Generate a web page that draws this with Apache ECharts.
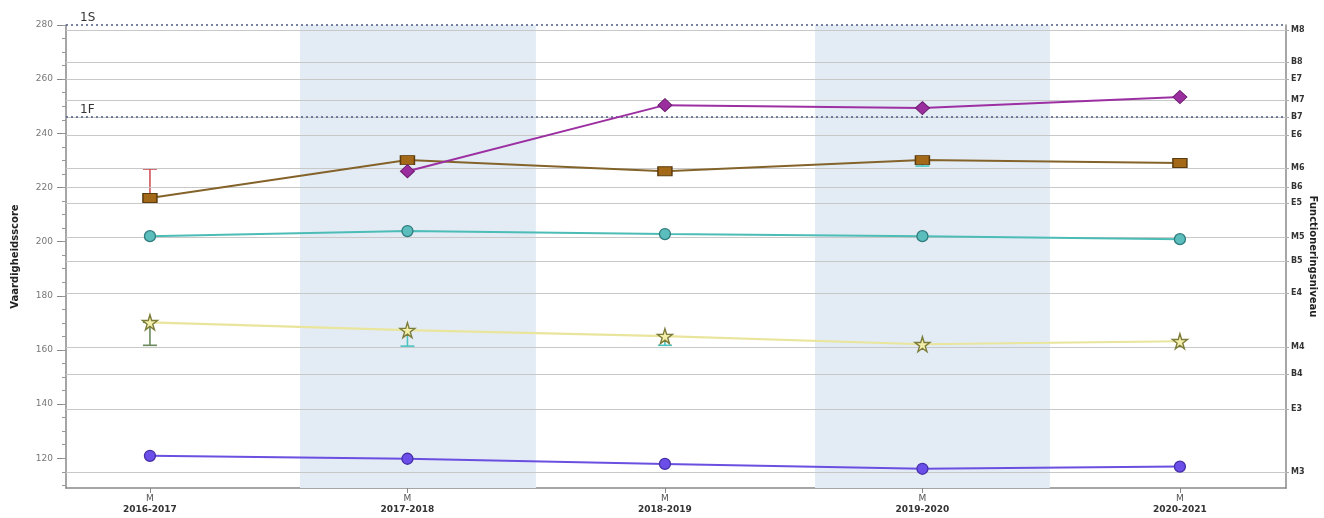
<!DOCTYPE html>
<html>
<head>
<meta charset="utf-8">
<script src="https://cdn.jsdelivr.net/npm/echarts@6/dist/echarts.min.js"></script>
<style>
html,body{margin:0;padding:0;background:#fff;}
#chart{width:1324px;height:518px;}
</style>
</head>
<body>
<div id="chart"></div>
<script>
// ---- data ----
var periods = ['2016-2017', '2017-2018', '2018-2019', '2019-2020', '2020-2021'];
var periodIdx = [0, 1, 2, 3, 4];
var brownSeries = [216.1, 230.1, 226.0, 230.1, 229.0];
var purpleSeries = [null, 226.0, 250.4, 249.3, 253.4];
var tealSeries = [202.0, 203.9, 202.8, 202.0, 200.9];
var yellowSeries = [170.2, 167.3, 165.1, 162.1, 163.2];
var blueSeries = [120.9, 119.8, 117.9, 116.1, 116.9];
// error bars: [periodIndex, low, high]
var redErr = [[0, 216.1, 226.8]];
var greenErr = [[0, 161.7, 170.2]];
var cyanErr = [[1, 161.4, 167.3], [2, 161.7, 165.1], [3, 227.9, 230.1]];
// left axis ticks
var leftTicks = [120, 140, 160, 180, 200, 220, 240, 260, 280];
var leftMinorTicks = [110,115,120,125,130,135,140,145,150,155,160,165,170,175,180,185,190,195,200,205,210,215,220,225,230,235,240,245,250,255,260,265,270,275,280];
// right axis (functioneringsniveau) levels
var levelNames = ['M3','E3','B4','M4','E4','B5','M5','E5','B6','M6','E6','B7','M7','E7','B8','M8'];
var levelValues = [114.8, 138.1, 151.0, 161.0, 180.9, 192.7, 201.6, 214.2, 220.1, 227.1, 239.3, 246.0, 252.3, 260.0, 266.3, 278.2];
// reference levels
var refNames = ['1S', '1F'];
var refValues = [280, 246.0];
// shaded periods [from, to] along x
var shadeBands = [[0.583, 1.499], [2.583, 3.495]];

// ---- build ----
function pairs(arr) {
  return arr.map(function (v, i) { return [periodIdx[i], v]; });
}
var starPath = 'path://M50,0 L61,35 L98,35 L68,57 L79,91 L50,70 L21,91 L32,57 L2,35 L39,35 Z';

function errSeries(data, color) {
  return {
    type: 'custom',
    z: 3,
    silent: true,
    data: data,
    renderItem: function (params, api) {
      var x = api.value(0), lo = api.value(1), hi = api.value(2);
      var p1 = api.coord([x, lo]), p2 = api.coord([x, hi]);
      var st = { stroke: color, lineWidth: 1.6 };
      return {
        type: 'group',
        children: [
          { type: 'line', shape: { x1: p1[0], y1: p1[1], x2: p2[0], y2: p2[1] }, style: st },
          { type: 'line', shape: { x1: p1[0] - 7, y1: p1[1], x2: p1[0] + 7, y2: p1[1] }, style: st },
          { type: 'line', shape: { x1: p2[0] - 7, y1: p2[1], x2: p2[0] + 7, y2: p2[1] }, style: st }
        ]
      };
    }
  };
}

var gridLines = levelValues.map(function (v) {
  return { yAxis: v, lineStyle: { color: '#c8c8c8', width: 1.2, type: 'solid' }, label: { show: false } };
});
var refLines = refValues.map(function (v, i) {
  return {
    yAxis: v,
    lineStyle: { color: '#4d5b86', width: 1.6, type: [2, 3] },
    label: { show: true, formatter: refNames[i], position: 'insideStartTop', distance: [14, 1], color: '#333', fontSize: 12, fontFamily: 'DejaVu Sans' }
  };
});
var areas = shadeBands.map(function (b) {
  return [{ xAxis: b[0] }, { xAxis: b[1] }];
});

var chart = echarts.init(document.getElementById('chart'));
chart.setOption({
  animation: false,
  backgroundColor: '#fff',
  grid: { left: 66, right: 38, top: 25, bottom: 30, containLabel: false, outerBoundsMode: 'none' },
  xAxis: {
    type: 'value',
    min: -0.326,
    max: 4.412,
    axisLine: { onZero: false, lineStyle: { color: '#888', width: 1.5 } },
    axisTick: { customValues: periodIdx, length: 5, lineStyle: { color: '#888' } },
    axisLabel: {
      customValues: periodIdx,
      formatter: function (v) { return '{m|M}\n{p|' + periods[Math.round(v)] + '}'; },
      margin: 5,
      rich: {
        m: { fontSize: 9, color: '#555', fontFamily: 'DejaVu Sans', lineHeight: 11 },
        p: { fontSize: 9, color: '#333', fontWeight: 'bold', fontFamily: 'DejaVu Sans', lineHeight: 11 }
      }
    },
    splitLine: { show: false }
  },
  yAxis: [
    {
      type: 'value', position: 'left', min: 109, max: 280,
      name: 'Vaardigheidsscore', nameLocation: 'middle', nameGap: 46, nameRotate: 90, nameMoveOverlap: false,
      nameTextStyle: { fontSize: 10, color: '#222', fontWeight: 'bold', fontFamily: 'DejaVu Sans' },
      axisLine: { show: true, onZero: false, lineStyle: { color: '#888', width: 1.5 } },
      axisTick: { show: true, customValues: leftTicks, length: 9, lineStyle: { color: '#888' } },
      axisLabel: { customValues: leftTicks, color: '#777', fontSize: 9, margin: 13, fontFamily: 'DejaVu Sans' },
      splitLine: { show: false }
    },
    {
      type: 'value', position: 'left', min: 109, max: 280,
      axisLine: { show: true, onZero: false, lineStyle: { color: 'rgba(0,0,0,0)' } },
      axisTick: { show: true, customValues: leftMinorTicks, length: 4, lineStyle: { color: '#999' } },
      axisLabel: { show: false },
      splitLine: { show: false }
    },
    {
      type: 'value', position: 'right', min: 109, max: 280,
      name: 'Functioneringsniveau', nameLocation: 'middle', nameGap: 22, nameRotate: -90, nameMoveOverlap: false,
      nameTextStyle: { fontSize: 10, color: '#222', fontWeight: 'bold', fontFamily: 'DejaVu Sans' },
      axisLine: { show: true, onZero: false, lineStyle: { color: '#888', width: 1.5 } },
      axisTick: { show: true, customValues: levelValues, length: 3, inside: false, lineStyle: { color: '#aaa' } },
      axisLabel: {
        customValues: levelValues,
        formatter: function (v) {
          var k = 0, best = 1e9;
          for (var i = 0; i < levelValues.length; i++) { var d = Math.abs(levelValues[i] - v); if (d < best) { best = d; k = i; } }
          return levelNames[k];
        },
        color: '#333', fontSize: 8, fontWeight: 'bold', margin: 5, fontFamily: 'DejaVu Sans'
      },
      splitLine: { show: false }
    }
  ],
  series: [
    {
      type: 'line', data: [], z: 1, silent: true,
      markArea: { silent: true, itemStyle: { color: '#e3ecf5' }, data: areas },
      markLine: { silent: true, symbol: ['none', 'none'], data: gridLines.concat(refLines) }
    },
    {
      type: 'line', data: pairs(brownSeries), z: 5,
      lineStyle: { color: '#84632a', width: 2 },
      symbol: 'rect', symbolSize: [14, 9],
      itemStyle: { color: '#a36818', borderColor: '#5b3c0f', borderWidth: 1.2 }
    },
    {
      type: 'line', data: pairs(purpleSeries), z: 6,
      lineStyle: { color: '#9c2fa2', width: 2 },
      symbol: 'diamond', symbolSize: [14, 13],
      itemStyle: { color: '#9b2e9f', borderColor: '#6d1d70', borderWidth: 1 }
    },
    {
      type: 'line', data: pairs(tealSeries), z: 5,
      lineStyle: { color: '#4cbcb6', width: 2 },
      symbol: 'circle', symbolSize: 11,
      itemStyle: { color: '#5cbdbd', borderColor: '#2e7c7e', borderWidth: 1.3 }
    },
    {
      type: 'line', data: pairs(yellowSeries), z: 5,
      lineStyle: { color: '#e9e59c', width: 2.2 },
      symbol: starPath, symbolSize: 15,
      itemStyle: { color: '#f3eeaa', borderColor: '#7c7c3a', borderWidth: 1.4 }
    },
    {
      type: 'line', data: pairs(blueSeries), z: 5,
      lineStyle: { color: '#6a4fe0', width: 2 },
      symbol: 'circle', symbolSize: 11,
      itemStyle: { color: '#6b4fe8', borderColor: '#4630a8', borderWidth: 1.3 }
    },
    errSeries(redErr, '#d0545a'),
    errSeries(greenErr, '#6a8a5c'),
    errSeries(cyanErr, '#4cc4c0')
  ]
});
</script>
</body>
</html>
